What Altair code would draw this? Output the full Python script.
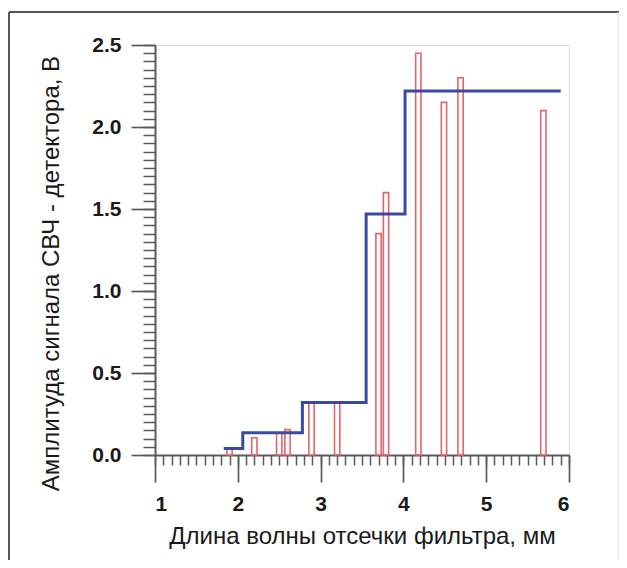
import altair as alt
import pandas as pd

# Data
bar_x = [1.90, 2.20, 2.50, 2.60, 2.89, 3.20, 3.70, 3.79, 4.18, 4.49, 4.69, 5.69]
bar_y = [0.035, 0.105, 0.135, 0.155, 0.32, 0.32, 1.35, 1.60, 2.45, 2.15, 2.30, 2.10]
bar_half = 0.032

step_x = [1.83, 2.06, 2.78, 3.55, 4.02, 5.90]
step_y = [0.04, 0.135, 0.32, 1.47, 2.22, 2.22]

x_major = [1, 2, 3, 4, 5, 6]
x_minor = [round(1 + 0.1 * i, 2) for i in range(51)]
y_major = [0.0, 0.5, 1.0, 1.5, 2.0, 2.5]
y_minor = [round(0.05 * i, 2) for i in range(51)]

x_title = "Длина волны отсечки фильтра, мм"
y_title = "Амплитуда сигнала СВЧ - детектора, В"

bars = pd.DataFrame({
    "x0": [v - bar_half for v in bar_x],
    "x1": [v + bar_half for v in bar_x],
    "y": bar_y,
    "y0": [0.0] * len(bar_x),
})
steps = pd.DataFrame({"x": step_x, "y": step_y})

W, H = 414, 410
PAD = {"left": 147, "top": 37, "right": 50, "bottom": 105}
AX = "#5a5a5a"
FONT = "Liberation Sans"

xs = alt.Scale(domain=[1, 6], nice=False, zero=False)
ys = alt.Scale(domain=[0, 2.5], nice=False)

major_x_axis = alt.Axis(
    orient="bottom", values=x_major, format="d", tickSize=27, tickWidth=1.7,
    tickColor=AX, domainColor=AX, domainWidth=2, labelFont=FONT,
    labelFontSize=21, labelFontWeight="bold", labelColor="#1a1a1a",
    labelPadding=11, grid=False, title=x_title, titleFont=FONT,
    titleFontSize=24, titleFontWeight="normal", titleColor="#1a1a1a",
    titlePadding=10,
)
major_y_axis = alt.Axis(
    orient="left", values=y_major, format=".1f", tickSize=24, tickWidth=1.7,
    tickColor=AX, domainColor=AX, domainWidth=2, labelFont=FONT,
    labelFontSize=21, labelFontWeight="bold", labelColor="#1a1a1a",
    labelPadding=10, grid=False, title=y_title, titleFont=FONT,
    titleFontSize=24, titleFontWeight="normal", titleColor="#1a1a1a",
    titleX=-104, titleY=228, titleBaseline="middle", titleAlign="center",
    titleAngle=270,
)
minor_x_axis = alt.Axis(
    orient="bottom", values=x_minor, tickSize=10, tickWidth=1.5,
    tickColor=AX, domain=False, labels=False, grid=False, title=None,
)
minor_y_axis = alt.Axis(
    orient="left", values=y_minor, tickSize=12, tickWidth=1.5,
    tickColor=AX, domain=False, labels=False, grid=False, title=None,
)

bar_layer = alt.Chart(bars).mark_rect(
    fill=None, fillOpacity=0, stroke="#e4646c", strokeWidth=1.6
).encode(
    x=alt.X("x0:Q", scale=xs, axis=major_x_axis),
    x2="x1:Q",
    y=alt.Y("y:Q", scale=ys, axis=major_y_axis),
    y2="y0:Q",
)

line_layer = alt.Chart(steps).mark_line(
    interpolate="step-after", color="#3a4a9e", strokeWidth=3
).encode(
    x=alt.X("x:Q", scale=xs, axis=minor_x_axis),
    y=alt.Y("y:Q", scale=ys, axis=minor_y_axis),
)

frame_df = pd.DataFrame({"a": [0]})
frame_left = alt.Chart(frame_df).mark_rule(color="#555555", strokeWidth=2).encode(
    x=alt.value(-146), y=alt.value(-33), y2=alt.value(H + PAD["bottom"])
)
frame_top = alt.Chart(frame_df).mark_rule(color="#555555", strokeWidth=2).encode(
    x=alt.value(-146), x2=alt.value(W + PAD["right"]), y=alt.value(-33)
)
frame_right = alt.Chart(frame_df).mark_rule(color="#dddddd", strokeWidth=1).encode(
    x=alt.value(W + PAD["right"] - 1), y=alt.value(-33), y2=alt.value(H + PAD["bottom"])
)

chart = alt.layer(bar_layer, line_layer, frame_left, frame_top, frame_right).resolve_axis(
    x="independent", y="independent"
).properties(
    width=W, height=H,
    autosize=alt.AutoSizeParams(type="none"),
    padding=PAD,
).configure_view(stroke=None).configure(background="white")

chart.save("out.html", embed_options={"renderer": "svg", "actions": False})
